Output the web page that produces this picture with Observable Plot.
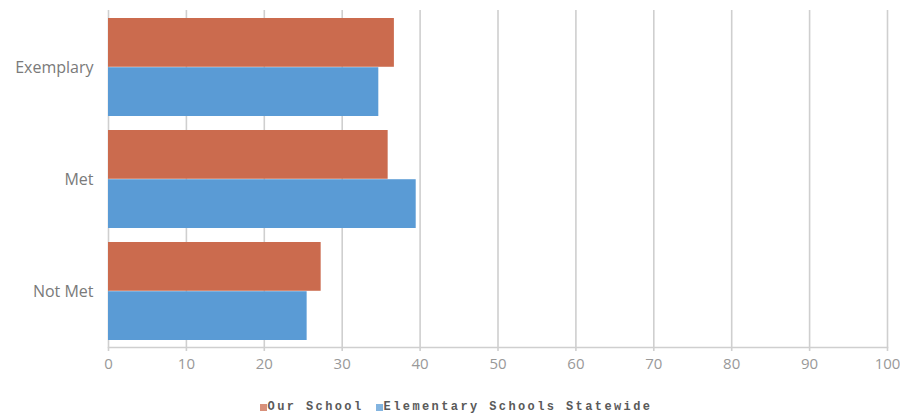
<!DOCTYPE html>
<html>
<head>
<meta charset="utf-8">
<script src="https://cdn.jsdelivr.net/npm/d3@7"></script>
<script src="https://cdn.jsdelivr.net/npm/@observablehq/plot@0.6"></script>
<style>
  html, body { margin: 0; padding: 0; background: #fff; }
  #chart { width: 900px; height: 420px; position: relative; }
  .legend { display: flex; justify-content: center; align-items: center; font-family: "Liberation Mono", "DejaVu Sans Mono", monospace; font-size: 12px; font-weight: bold; letter-spacing: 2.4px; color: #5a5a5a; height: 34px; margin-left: 12px; }
  .legend span.item { display: inline-flex; align-items: center; margin: 0 6px; }
  .legend span.sw { display: inline-block; width: 7px; height: 7px; margin-right: 1px; }
</style>
</head>
<body>
<div id="chart"></div>
<script>
const categories = ["Exemplary", "Met", "Not Met"];
const seriesNames = ["Our School", "Elementary Schools Statewide"];
const ourSchool = [36.7, 35.9, 27.3];
const statewide = [34.7, 39.5, 25.5];
const xTicks = [0, 10, 20, 30, 40, 50, 60, 70, 80, 90, 100];
const colors = ["#CB6B4E", "#5A9BD5"];

const ours = categories.map((c, i) => ({category: c, series: seriesNames[0], value: ourSchool[i]}));
const state = categories.map((c, i) => ({category: c, series: seriesNames[1], value: statewide[i]}));

const H = 390, mTop = 10, mBottom = 43;
const pInner = 0.125, pOuter = 0.06;
const step = (H - mTop - mBottom) / (categories.length - pInner + 2 * pOuter);
const half = step * (1 - pInner) / 2;

const chart = Plot.plot({
  width: 900,
  height: H,
  marginLeft: 108,
  marginRight: 13,
  marginTop: mTop,
  marginBottom: mBottom,
  style: {fontFamily: "'Open Sans', sans-serif", background: "#fff"},
  x: {domain: [0, 100], ticks: xTicks, label: null},
  y: {domain: categories, paddingInner: pInner, paddingOuter: pOuter, label: null},
  color: {domain: seriesNames, range: colors},
  marks: [
    Plot.gridX(xTicks, {stroke: "#cfcfcf", strokeOpacity: 1, strokeWidth: 1.6}),
    Plot.axisX(xTicks, {tickSize: 4, stroke: "#cfcfcf", strokeWidth: 1.6, tickPadding: 7, fontSize: 15, fill: "#999999"}),
    Plot.axisY({tickSize: 0, tickPadding: 15, fontSize: 16, fill: "#7a7a7a"}),
    Plot.frame({anchor: "bottom", stroke: "#cfcfcf", strokeWidth: 1.6}),
    Plot.barX(ours, {y: "category", x: "value", fill: "series", insetBottom: half}),
    Plot.barX(state, {y: "category", x: "value", fill: "series", insetTop: half})
  ]
});
document.getElementById("chart").appendChild(chart);

const legend = document.createElement("div");
legend.className = "legend";
seriesNames.forEach((s, i) => {
  const item = document.createElement("span");
  item.className = "item";
  const sw = document.createElement("span");
  sw.className = "sw";
  sw.style.background = colors[i];
  sw.style.opacity = 0.75;
  item.appendChild(sw);
  item.appendChild(document.createTextNode(s));
  legend.appendChild(item);
});
document.getElementById("chart").appendChild(legend);
</script>
</body>
</html>
